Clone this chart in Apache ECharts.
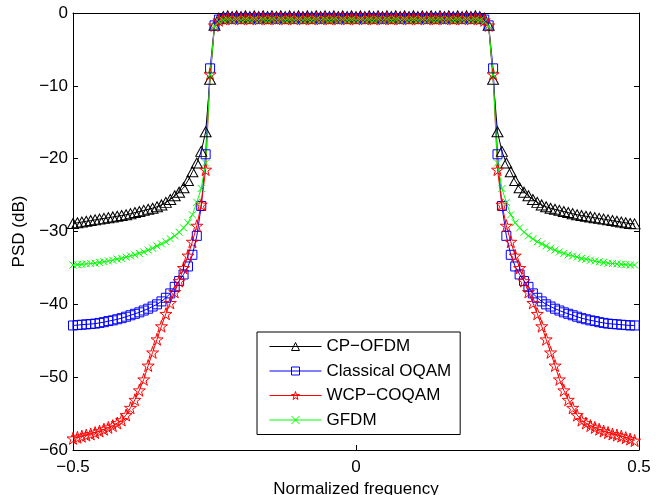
<!DOCTYPE html>
<html>
<head>
<meta charset="utf-8">
<script src="https://cdn.jsdelivr.net/npm/echarts@6/dist/echarts.min.js"></script>
<style>
  html, body { margin: 0; padding: 0; background: #fff; }
  #chart { width: 666px; height: 495px; }
</style>
</head>
<body>
<div id="chart"></div>
<script>
// frequency bins k/128, k = -64 .. 63
const binCount = 128;
const freq = [];
for (let k = -64; k < 64; k++) freq.push(k / binCount);

const seriesNames = ['CP\u2212OFDM', 'Classical OQAM', 'WCP\u2212COQAM', 'GFDM'];
const seriesColors = ['#000000', '#0000ff', '#ff0000', '#00ff00'];
const xTicks = [-0.5, 0, 0.5];
const yTicks = [-60, -50, -40, -30, -20, -10, 0];

// PSD values in dB, one per bin
const cpOfdm = [
  -28.9, -28.8, -28.7, -28.6, -28.5, -28.4, -28.3, -28.2, -28.1, -28.0,
  -27.9, -27.8, -27.7, -27.55, -27.4, -27.25, -27.1, -26.95, -26.8, -26.6,
  -26.35, -26.0, -25.6, -25.1, -24.6, -24.0, -23.0, -21.8, -20.6, -19.0,
  -16.3, -9.1, -1.7,
  -0.7, -0.5, -0.4, -0.5, -0.4, -0.5, -0.4, -0.5, -0.4, -0.5,
  -0.4, -0.5, -0.4, -0.5, -0.4, -0.5, -0.4, -0.5, -0.4, -0.5,
  -0.4, -0.5, -0.4, -0.5, -0.4, -0.5, -0.4, -0.5, -0.4, -0.5,
  -0.4, -0.5, -0.4, -0.5, -0.4, -0.5, -0.4, -0.5, -0.4, -0.5,
  -0.4, -0.5, -0.4, -0.5, -0.4, -0.5, -0.4, -0.5, -0.4, -0.5,
  -0.4, -0.5, -0.4, -0.5, -0.4, -0.5, -0.4, -0.5, -0.4, -0.5,
  -0.7,
  -1.7, -9.1, -16.3, -19.0, -20.6, -21.8, -23.0, -24.0, -24.6, -25.1,
  -25.6, -26.0, -26.35, -26.6, -26.8, -26.95, -27.1, -27.25, -27.4, -27.55,
  -27.7, -27.8, -27.9, -28.0, -28.1, -28.2, -28.3, -28.4, -28.5, -28.6,
  -28.7, -28.8, -28.9, -28.95
];

const classicalOqam = [
  -42.9, -42.85, -42.8, -42.75, -42.7, -42.65, -42.55, -42.45, -42.3, -42.2,
  -42.05, -41.9, -41.7, -41.5, -41.3, -41.1, -40.85, -40.6, -40.3, -40.0,
  -39.6, -39.1, -38.5, -37.6, -36.8, -35.9, -34.8, -33.2, -30.6, -26.5,
  -19.4, -7.6, -1.7,
  -0.9, -0.8, -0.7, -0.8, -0.7, -0.8, -0.7, -0.8, -0.7, -0.8,
  -0.7, -0.8, -0.7, -0.8, -0.7, -0.8, -0.7, -0.8, -0.7, -0.8,
  -0.7, -0.8, -0.7, -0.8, -0.7, -0.8, -0.7, -0.8, -0.7, -0.8,
  -0.7, -0.8, -0.7, -0.8, -0.7, -0.8, -0.7, -0.8, -0.7, -0.8,
  -0.7, -0.8, -0.7, -0.8, -0.7, -0.8, -0.7, -0.8, -0.7, -0.8,
  -0.7, -0.8, -0.7, -0.8, -0.7, -0.8, -0.7, -0.8, -0.7, -0.8,
  -0.9,
  -1.7, -7.6, -19.4, -26.5, -30.6, -33.2, -34.8, -35.9, -36.8, -37.6,
  -38.5, -39.1, -39.6, -40.0, -40.3, -40.6, -40.85, -41.1, -41.3, -41.5,
  -41.7, -41.9, -42.05, -42.2, -42.3, -42.45, -42.55, -42.65, -42.7, -42.75,
  -42.8, -42.85, -42.9, -42.9
];

const wcpCoqam = [
  -58.4, -58.25, -58.1, -57.95, -57.8, -57.6, -57.4, -57.15, -56.9, -56.65,
  -56.3, -55.9, -55.2, -54.2, -53.1, -51.8, -50.3, -48.4, -46.6, -44.8,
  -43.0, -41.3, -39.8, -38.3, -36.8, -35.0, -33.3, -31.4, -29.2, -26.3,
  -21.5, -8.4, -1.7,
  -1.0, -0.8, -0.7, -0.8, -0.7, -0.8, -0.7, -0.8, -0.7, -0.8,
  -0.7, -0.8, -0.7, -0.8, -0.7, -0.8, -0.7, -0.8, -0.7, -0.8,
  -0.7, -0.8, -0.7, -0.8, -0.7, -0.8, -0.7, -0.8, -0.7, -0.8,
  -0.7, -0.8, -0.7, -0.8, -0.7, -0.8, -0.7, -0.8, -0.7, -0.8,
  -0.7, -0.8, -0.7, -0.8, -0.7, -0.8, -0.7, -0.8, -0.7, -0.8,
  -0.7, -0.8, -0.7, -0.8, -0.7, -0.8, -0.7, -0.8, -0.7, -0.8,
  -1.0,
  -1.7, -8.4, -21.5, -26.3, -29.2, -31.4, -33.3, -35.0, -36.8, -38.3,
  -39.8, -41.3, -43.0, -44.8, -46.6, -48.4, -50.3, -51.8, -53.1, -54.2,
  -55.2, -55.9, -56.3, -56.65, -56.9, -57.15, -57.4, -57.6, -57.8, -57.95,
  -58.1, -58.3, -58.5, -58.7
];

const gfdm = [
  -34.6, -34.55, -34.5, -34.45, -34.4, -34.35, -34.25, -34.15, -34.05, -33.95,
  -33.8, -33.7, -33.5, -33.35, -33.2, -33.0, -32.8, -32.55, -32.3, -32.0,
  -31.7, -31.4, -31.0, -30.6, -30.1, -29.5, -28.8, -27.7, -26.0, -24.1,
  -20.6, -8.5, -1.8,
  -1.2, -1.0, -0.9, -1.0, -0.9, -1.0, -0.9, -1.0, -0.9, -1.0,
  -0.9, -1.0, -0.9, -1.0, -0.9, -1.0, -0.9, -1.0, -0.9, -1.0,
  -0.9, -1.0, -0.9, -1.0, -0.9, -1.0, -0.9, -1.0, -0.9, -1.0,
  -0.9, -1.0, -0.9, -1.0, -0.9, -1.0, -0.9, -1.0, -0.9, -1.0,
  -0.9, -1.0, -0.9, -1.0, -0.9, -1.0, -0.9, -1.0, -0.9, -1.0,
  -0.9, -1.0, -0.9, -1.0, -0.9, -1.0, -0.9, -1.0, -0.9, -1.0,
  -1.2,
  -1.8, -8.5, -20.6, -24.1, -26.0, -27.7, -28.8, -29.5, -30.1, -30.6,
  -31.0, -31.4, -31.7, -32.0, -32.3, -32.55, -32.8, -33.0, -33.2, -33.35,
  -33.5, -33.7, -33.8, -33.95, -34.05, -34.15, -34.25, -34.35, -34.4, -34.45,
  -34.5, -34.55, -34.6, -34.6
];

const FONT = '"Liberation Sans", Arial, Helvetica, sans-serif';
const FONT_SIZE = 17;
const STAR = 'path://M50,0 L61,35 L98,35 L68,57 L79,91 L50,70 L21,91 L32,57 L2,35 L39,35 Z';
const CROSS = 'path://M0,0 L10,10 M10,0 L0,10';

function minus(v) {
  return String(v).replace('-', '\u2212');
}

function pairs(values) {
  return values.map((v, i) => [freq[i], v]);
}

function lineSeries(name, values, color, symbol, size) {
  return {
    name: name,
    type: 'line',
    data: pairs(values),
    symbol: symbol,
    symbolSize: size,
    showAllSymbol: true,
    lineStyle: { color: color, width: 1 },
    itemStyle: { color: 'rgba(0,0,0,0)', borderColor: color, borderWidth: 1 },
    emphasis: { disabled: true },
  };
}

const chart = echarts.init(document.getElementById('chart'), null, { renderer: 'canvas' });

const axisCommon = {
  axisLine: { show: true, onZero: false, lineStyle: { color: '#000', width: 1 } },
  axisTick: { show: true, inside: true, length: 5, lineStyle: { color: '#000' } },
  splitLine: { show: false },
};

const option = {
  animation: false,
  backgroundColor: '#fff',
  grid: { left: 73, right: 27, top: 13, bottom: 45, containLabel: false, outerBoundsMode: 'none' },
  xAxis: [
    {
      ...axisCommon,
      type: 'value',
      min: xTicks[0],
      max: xTicks[xTicks.length - 1],
      interval: 0.5,
      name: 'Normalized frequency',
      nameLocation: 'middle',
      nameGap: 29,
      nameTextStyle: { color: '#000', fontFamily: FONT, fontSize: FONT_SIZE },
      axisLabel: {
        color: '#000', fontFamily: FONT, fontSize: FONT_SIZE, margin: 9,
        formatter: (v) => minus(v),
      },
    },
    {
      ...axisCommon,
      type: 'value',
      position: 'top',
      min: xTicks[0],
      max: xTicks[xTicks.length - 1],
      interval: 0.5,
      axisLabel: { show: false },
    },
  ],
  yAxis: [
    {
      ...axisCommon,
      type: 'value',
      min: yTicks[0],
      max: yTicks[yTicks.length - 1],
      interval: 10,
      name: 'PSD (dB)',
      nameLocation: 'middle',
      nameGap: 33,
      nameTextStyle: { color: '#000', fontFamily: FONT, fontSize: FONT_SIZE },
      axisLabel: {
        color: '#000', fontFamily: FONT, fontSize: FONT_SIZE, margin: 5,
        formatter: (v) => minus(v),
      },
    },
    {
      ...axisCommon,
      type: 'value',
      position: 'right',
      min: yTicks[0],
      max: yTicks[yTicks.length - 1],
      interval: 10,
      axisLabel: { show: false },
    },
  ],
  legend: {
    orient: 'vertical',
    left: 257,
    top: 332,
    padding: [6, 9, 6, 12],
    itemWidth: 52,
    itemHeight: 10,
    itemGap: 7.5,
    borderColor: '#000',
    borderWidth: 1,
    backgroundColor: '#fff',
    selectedMode: false,
    textStyle: { color: '#000', fontFamily: FONT, fontSize: FONT_SIZE, lineHeight: 17 },
    data: seriesNames.map((name, i) => ({
      name: name,
      itemStyle: { color: 'rgba(0,0,0,0)', borderColor: seriesColors[i], borderWidth: 1 },
      lineStyle: { color: seriesColors[i], width: 1 },
    })),
  },
  series: [
    lineSeries(seriesNames[0], cpOfdm, seriesColors[0], 'triangle', [11, 10]),
    lineSeries(seriesNames[1], classicalOqam, seriesColors[1], 'rect', 9),
    lineSeries(seriesNames[2], wcpCoqam, seriesColors[2], STAR, 12),
    lineSeries(seriesNames[3], gfdm, seriesColors[3], CROSS, 7),
  ],
};

chart.setOption(option);
</script>
</body>
</html>
